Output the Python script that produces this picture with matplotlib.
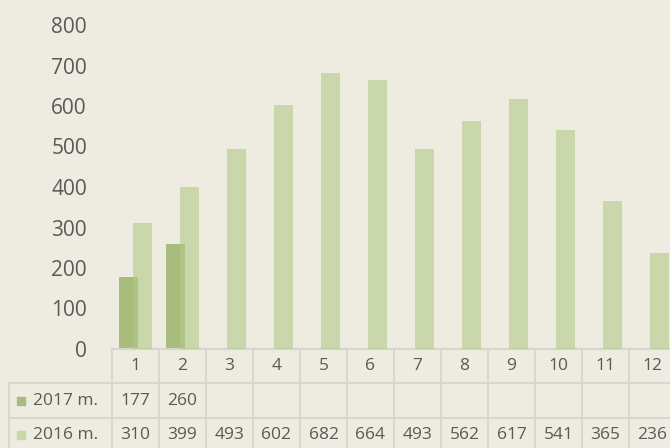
import numpy as np
import matplotlib
matplotlib.use("Agg")
import matplotlib.pyplot as plt

# duomenys
menesiai = [str(i) for i in range(1, 13)]
eil_2017 = [177, 260]
eil_2016 = [310, 399, 493, 602, 682, 664, 493, 562, 617, 541, 365, 236]
y_ticks = [0, 100, 200, 300, 400, 500, 600, 700, 800]
serijos = ["2017 m.", "2016 m."]

fonas = "#EEEBE0"
tekstas = "#595959"
linija = "#D6D5CF"
spalva_2017 = "#A8BD7D"
spalva_2016 = "#B2CA89"

plt.rcParams["font.family"] = ["Open Sans", "DejaVu Sans"]

W, H = 670, 448
fig = plt.figure(figsize=(W / 100, H / 100), dpi=100, facecolor=fonas)

# pagrindine asis (pikseliais)
x0, x1 = 112, 676
y_top, y_bot = 25, 349
ax = fig.add_axes([x0 / W, (H - y_bot) / H, (x1 - x0) / W, (y_bot - y_top) / H])
ax.set_facecolor(fonas)

x = np.arange(1, 13)
w = 0.40
ax.bar(x[:len(eil_2017)] - 0.155, eil_2017, w, color=spalva_2017, zorder=2)
ax.bar(x + 0.145, eil_2016, w, color=spalva_2016, alpha=0.6, zorder=3)

ax.set_xlim(0.5, 12.5)
ax.set_ylim(0, 800)
ax.set_yticks(y_ticks)
ax.set_yticklabels([str(v) for v in y_ticks], fontsize=15, color=tekstas)
ax.tick_params(axis="y", length=0, pad=18)
ax.set_xticks([])
for s in ["left", "right", "top"]:
    ax.spines[s].set_visible(False)
ax.spines["bottom"].set_color(linija)
ax.spines["bottom"].set_linewidth(1.5)

# lentele apacioje
tx0 = 9
t_bot = 452
tax = fig.add_axes([tx0 / W, (H - t_bot) / H, (x1 - tx0) / W, (t_bot - y_bot) / H])
tax.set_axis_off()
xl = 0.5 - (x0 - tx0) / ((x1 - x0) / 12)
tax.set_xlim(xl, 12.5)
tax.set_ylim(3, 0)

lw = 1.3
tax.plot([xl, 12.5], [1, 1], color=linija, lw=lw, clip_on=False)
tax.plot([xl, 12.5], [2, 2], color=linija, lw=lw, clip_on=False)
tax.plot([xl, 12.5], [3, 3], color=linija, lw=lw, clip_on=False)
tax.plot([xl, xl], [1, 3], color=linija, lw=lw, clip_on=False)
for k in range(13):
    tax.plot([k + 0.5, k + 0.5], [0, 3], color=linija, lw=lw, clip_on=False)

for i, m in enumerate(menesiai):
    tax.text(i + 1, 0.5, m, ha="center", va="center", fontsize=12.5, color=tekstas)
for i, v in enumerate(eil_2017):
    tax.text(i + 1, 1.5, str(v), ha="center", va="center", fontsize=12.5, color=tekstas)
for i, v in enumerate(eil_2016):
    tax.text(i + 1, 2.5, str(v), ha="center", va="center", fontsize=12.5, color=tekstas)

# legendos kvadratai eiluciu pavadinimuose
kv = 8 / ((x1 - x0) / 12)
kv_h = 8 / ((t_bot - y_bot) / 3)
for r, (nm, c) in enumerate(zip(serijos, [spalva_2017, "#CAD7AC"])):
    sx = xl + (17 - tx0) / ((x1 - x0) / 12)
    tax.add_patch(plt.Rectangle((sx, r + 1.5 - kv_h / 2), kv, kv_h, color=c, clip_on=False))
    tax.text(xl + (33 - tx0) / ((x1 - x0) / 12), r + 1.5, nm, ha="left", va="center",
             fontsize=12.5, color=tekstas)

fig.savefig("out.png", dpi=100, facecolor=fonas)
